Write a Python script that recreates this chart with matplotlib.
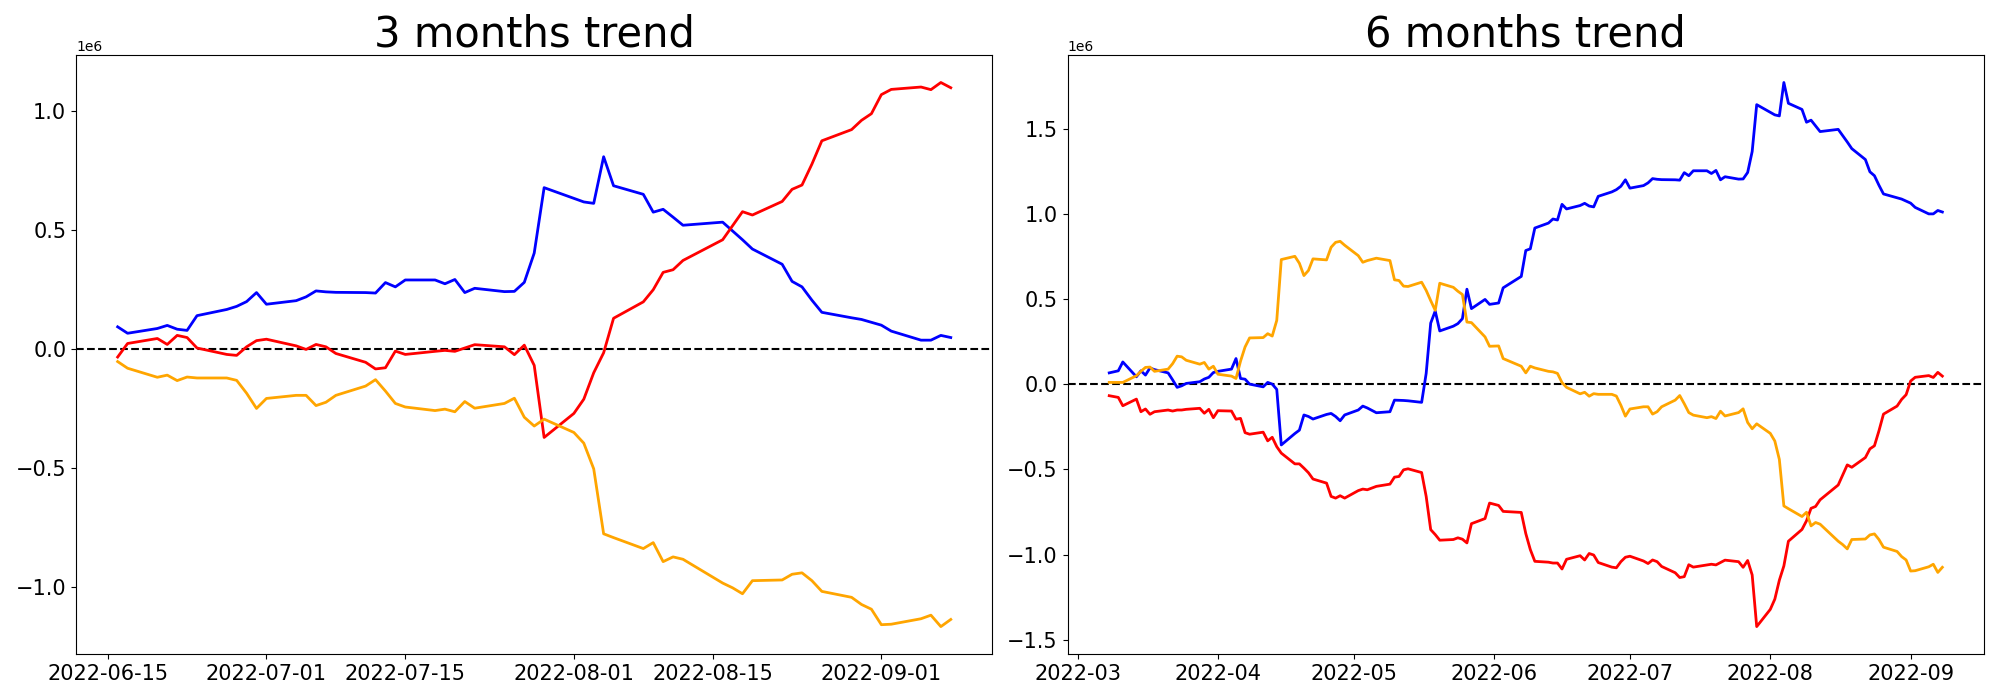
import matplotlib
matplotlib.use("Agg")
import matplotlib.pyplot as plt
import matplotlib.dates as mdates
import numpy as np
import pandas as pd

# values in millions (axes show 1e6 offset)

# ---- 3 months window ----
dates_3m = [
    "2022-06-16", "2022-06-17", "2022-06-20", "2022-06-21", "2022-06-22", "2022-06-23",
    "2022-06-24", "2022-06-27", "2022-06-28", "2022-06-29", "2022-06-30",
    "2022-07-01", "2022-07-04", "2022-07-05", "2022-07-06", "2022-07-07", "2022-07-08",
    "2022-07-11", "2022-07-12", "2022-07-13", "2022-07-14", "2022-07-15", "2022-07-18",
    "2022-07-19", "2022-07-20", "2022-07-21", "2022-07-22", "2022-07-25", "2022-07-26",
    "2022-07-27", "2022-07-28", "2022-07-29",
    "2022-08-01", "2022-08-02", "2022-08-03", "2022-08-04", "2022-08-05", "2022-08-08",
    "2022-08-09", "2022-08-10", "2022-08-11", "2022-08-12", "2022-08-16", "2022-08-17",
    "2022-08-18", "2022-08-19", "2022-08-22", "2022-08-23", "2022-08-24", "2022-08-25",
    "2022-08-26", "2022-08-29", "2022-08-30", "2022-08-31",
    "2022-09-01", "2022-09-02", "2022-09-05", "2022-09-06", "2022-09-07", "2022-09-08",
]
blue_3m = [
    0.092, 0.065, 0.085, 0.098, 0.082, 0.077, 0.139, 0.165, 0.178, 0.198, 0.236,
    0.187, 0.202, 0.218, 0.243, 0.239, 0.237, 0.236, 0.234, 0.278, 0.260, 0.289, 0.289,
    0.273, 0.291, 0.236, 0.254, 0.240, 0.241, 0.279, 0.402, 0.677,
    0.632, 0.617, 0.611, 0.807, 0.685, 0.649, 0.574, 0.586, 0.553, 0.519, 0.532, 0.495,
    0.458, 0.419, 0.355, 0.283, 0.260, 0.204, 0.153, 0.130, 0.123, 0.111,
    0.099, 0.074, 0.036, 0.036, 0.056, 0.047,
]
red_3m = [
    -0.035, 0.022, 0.043, 0.018, 0.056, 0.047, 0.003, -0.024, -0.028, 0.008, 0.034,
    0.040, 0.012, -0.003, 0.018, 0.008, -0.020, -0.057, -0.085, -0.080, -0.010, -0.024, -0.011,
    -0.007, -0.011, 0.003, 0.017, 0.008, -0.025, 0.015, -0.070, -0.373,
    -0.272, -0.212, -0.101, -0.017, 0.128, 0.197, 0.248, 0.321, 0.332, 0.371, 0.458, 0.517,
    0.576, 0.562, 0.619, 0.670, 0.688, 0.776, 0.874, 0.921, 0.960, 0.988,
    1.068, 1.090, 1.100, 1.089, 1.119, 1.097,
]
orange_3m = [
    -0.054, -0.082, -0.120, -0.111, -0.134, -0.119, -0.123, -0.123, -0.133, -0.187, -0.251,
    -0.209, -0.196, -0.196, -0.239, -0.225, -0.196, -0.157, -0.130, -0.178, -0.230, -0.245, -0.260,
    -0.254, -0.265, -0.222, -0.250, -0.230, -0.208, -0.288, -0.325, -0.296,
    -0.352, -0.397, -0.505, -0.778, -0.794, -0.840, -0.815, -0.895, -0.875, -0.885, -0.985, -1.005,
    -1.030, -0.975, -0.972, -0.948, -0.942, -0.975, -1.020, -1.045, -1.075, -1.095,
    -1.160, -1.158, -1.135, -1.120, -1.168, -1.138,
]

# ---- 6 months window: Mar 8 - Jun 15 then same dates as above ----
dates_early = [
    "2022-03-08", "2022-03-10", "2022-03-11", "2022-03-14", "2022-03-15", "2022-03-16",
    "2022-03-17", "2022-03-18", "2022-03-21", "2022-03-22", "2022-03-23", "2022-03-24",
    "2022-03-25", "2022-03-28", "2022-03-29", "2022-03-30", "2022-03-31",
    "2022-04-01", "2022-04-04", "2022-04-05", "2022-04-06", "2022-04-07", "2022-04-08",
    "2022-04-11", "2022-04-12", "2022-04-13", "2022-04-14", "2022-04-15", "2022-04-18",
    "2022-04-19", "2022-04-20", "2022-04-21", "2022-04-22", "2022-04-25", "2022-04-26",
    "2022-04-27", "2022-04-28", "2022-04-29",
    "2022-05-02", "2022-05-03", "2022-05-04", "2022-05-06", "2022-05-09", "2022-05-10",
    "2022-05-11", "2022-05-12", "2022-05-13", "2022-05-16", "2022-05-17", "2022-05-18",
    "2022-05-19", "2022-05-20", "2022-05-23", "2022-05-24", "2022-05-25", "2022-05-26",
    "2022-05-27", "2022-05-30", "2022-05-31",
    "2022-06-02", "2022-06-03", "2022-06-07", "2022-06-08", "2022-06-09", "2022-06-10",
    "2022-06-13", "2022-06-14", "2022-06-15",
]
blue_early = [
    0.066, 0.078, 0.130, 0.043, 0.078, 0.053, 0.095, 0.085, 0.066, 0.025, -0.019, -0.010,
    0.004, 0.014, 0.030, 0.040, 0.068,
    0.075, 0.088, 0.150, 0.033, 0.029, 0.000, -0.016, 0.010, 0.000, -0.031, -0.357, -0.290,
    -0.270, -0.181, -0.190, -0.205, -0.178, -0.172, -0.190, -0.215, -0.181,
    -0.152, -0.129, -0.140, -0.168, -0.162, -0.094, -0.095, -0.096, -0.098, -0.107, 0.063, 0.358,
    0.429, 0.312, 0.340, 0.355, 0.384, 0.557, 0.443, 0.497, 0.468,
    0.476, 0.565, 0.632, 0.784, 0.794, 0.916, 0.945, 0.969, 0.963,
]
red_early = [
    -0.068, -0.078, -0.127, -0.088, -0.162, -0.146, -0.177, -0.162, -0.152, -0.158, -0.152, -0.152,
    -0.148, -0.142, -0.171, -0.148, -0.197,
    -0.156, -0.158, -0.206, -0.201, -0.285, -0.294, -0.282, -0.333, -0.312, -0.367, -0.405, -0.468,
    -0.468, -0.493, -0.520, -0.557, -0.581, -0.659, -0.669, -0.655, -0.669,
    -0.625, -0.616, -0.620, -0.600, -0.587, -0.546, -0.542, -0.503, -0.497, -0.519, -0.659, -0.854,
    -0.883, -0.916, -0.912, -0.902, -0.910, -0.932, -0.819, -0.789, -0.698,
    -0.712, -0.747, -0.753, -0.877, -0.971, -1.040, -1.045, -1.050, -1.050,
]
orange_early = [
    0.010, 0.010, 0.010, 0.049, 0.075, 0.098, 0.100, 0.075, 0.088, 0.120, 0.164, 0.160,
    0.140, 0.117, 0.127, 0.088, 0.105,
    0.058, 0.047, 0.033, 0.135, 0.218, 0.271, 0.273, 0.296, 0.282, 0.374, 0.731, 0.750,
    0.709, 0.637, 0.667, 0.735, 0.729, 0.803, 0.832, 0.838, 0.815,
    0.754, 0.715, 0.725, 0.739, 0.725, 0.612, 0.608, 0.575, 0.573, 0.598, 0.550, 0.490,
    0.433, 0.592, 0.568, 0.545, 0.526, 0.364, 0.361, 0.277, 0.222,
    0.224, 0.150, 0.105, 0.066, 0.105, 0.095, 0.075, 0.072, 0.063,
]
blue_late = [
    1.055, 1.028, 1.048, 1.061, 1.045, 1.040, 1.102, 1.128, 1.141, 1.161, 1.199,
    1.150, 1.165, 1.181, 1.206, 1.202, 1.200, 1.199, 1.197, 1.241, 1.223, 1.252, 1.252,
    1.236, 1.254, 1.199, 1.217, 1.203, 1.204, 1.242, 1.365, 1.640,
    1.595, 1.580, 1.574, 1.770, 1.648, 1.612, 1.537, 1.549, 1.516, 1.482, 1.495, 1.458,
    1.421, 1.382, 1.318, 1.246, 1.223, 1.167, 1.116, 1.093, 1.086, 1.074,
    1.062, 1.037, 0.999, 0.999, 1.019, 1.010,
]
red_late = [
    -1.085, -1.028, -1.007, -1.032, -0.994, -1.003, -1.047, -1.074, -1.078, -1.042, -1.016,
    -1.010, -1.038, -1.053, -1.032, -1.042, -1.070, -1.107, -1.135, -1.130, -1.060, -1.074, -1.061,
    -1.057, -1.061, -1.047, -1.033, -1.042, -1.075, -1.035, -1.120, -1.423,
    -1.322, -1.262, -1.151, -1.067, -0.922, -0.853, -0.802, -0.729, -0.718, -0.679, -0.592, -0.533,
    -0.474, -0.488, -0.431, -0.380, -0.362, -0.274, -0.176, -0.129, -0.090, -0.062,
    0.018, 0.040, 0.050, 0.039, 0.069, 0.047,
]
orange_late = [
    0.009, -0.019, -0.057, -0.048, -0.071, -0.056, -0.060, -0.060, -0.070, -0.124, -0.188,
    -0.146, -0.133, -0.133, -0.176, -0.162, -0.133, -0.094, -0.067, -0.115, -0.167, -0.182, -0.197,
    -0.191, -0.202, -0.159, -0.187, -0.167, -0.145, -0.225, -0.262, -0.233,
    -0.289, -0.334, -0.442, -0.715, -0.731, -0.777, -0.752, -0.832, -0.812, -0.822, -0.922, -0.942,
    -0.967, -0.912, -0.909, -0.885, -0.879, -0.912, -0.957, -0.982, -1.012, -1.032,
    -1.097, -1.095, -1.072, -1.057, -1.105, -1.075,
]

dates_6m = dates_early + dates_3m
blue_6m = blue_early + blue_late
red_6m = red_early + red_late
orange_6m = orange_early + orange_late

fig, axes = plt.subplots(1, 2, figsize=(20, 7), dpi=100)
fig.subplots_adjust(left=0.038, right=0.992, bottom=0.066, top=0.921, wspace=0.082)

panels = [
    (axes[0], "3 months trend", dates_3m, blue_3m, red_3m, orange_3m,
     mdates.DayLocator(bymonthday=[1, 15]), "%Y-%m-%d"),
    (axes[1], "6 months trend", dates_6m, blue_6m, red_6m, orange_6m,
     mdates.MonthLocator(), "%Y-%m"),
]

for ax, title, d, b, r, o, loc, fmt in panels:
    x = pd.to_datetime(d)
    ax.axhline(0, color="black", linestyle="--", linewidth=1.5)
    ax.plot(x, np.array(b) * 1e6, color="blue", linewidth=2)
    ax.plot(x, np.array(r) * 1e6, color="red", linewidth=2)
    ax.plot(x, np.array(o) * 1e6, color="orange", linewidth=2)
    ax.xaxis.set_major_locator(loc)
    ax.xaxis.set_major_formatter(mdates.DateFormatter(fmt))
    ax.tick_params(labelsize=15)
    ax.set_title(title, fontsize=30)

plt.savefig("out.png")
